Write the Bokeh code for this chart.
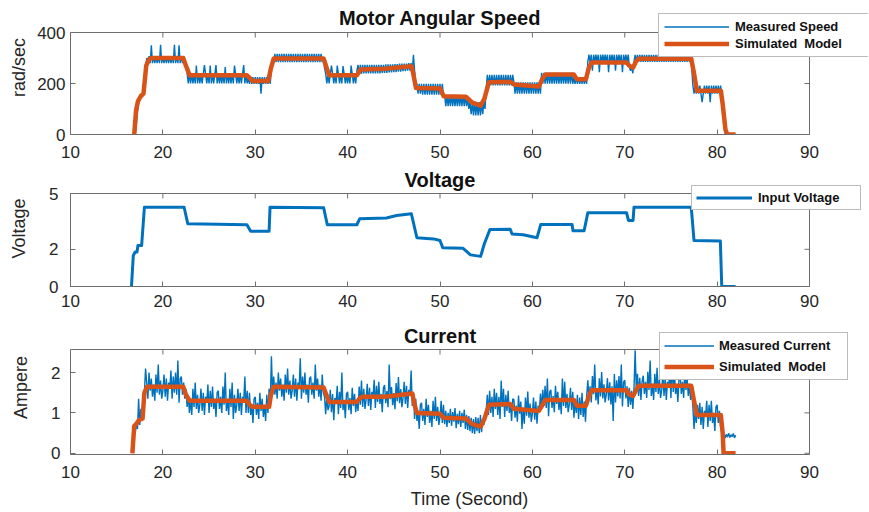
import numpy as np
from bokeh.plotting import figure
from bokeh.models import Range1d, FixedTicker, Legend, LegendItem, Label
from bokeh.layouts import column
from bokeh.embed import file_html
from bokeh.resources import INLINE

nan = float("nan")

# ---------------- data ----------------
X_TICKS = [10, 20, 30, 40, 50, 60, 70, 80, 90]
SPEED_TICKS = [0, 200, 400]
VOLT_TICKS = [0, 2, 5]
CURRENT_TICKS = [0, 1, 2]
X_LIM = (10, 90)
SPEED_LIM = (0, 400)
VOLT_LIM = (0, 5)
CURRENT_LIM = (-0.03, 2.57)

# measured samples: 0.125 s apart, first sample at 16.0 s (each row = 2 s)
MEAS_T0 = 16.0
MEAS_DT = 0.125

speed_measured = [
    nan, nan, nan, nan, nan, nan, nan, nan, 0, 40, 90, 120, 140, 145, 150, 170,          # 16
    220, 260, 300, 280, 307, 280, 350, 280, 307, 280, 307, 280, 307, 280, 352, 280,      # 18
    307, 280, 307, 280, 307, 280, 307, 280, 307, 280, 352, 280, 307, 280, 350, 280,      # 20
    307, 280, 307, 280, 270, 240, 200, 238, 200, 238, 200, 238, 200, 270, 200, 238,      # 22
    200, 238, 200, 238, 272, 238, 200, 238, 200, 270, 200, 238, 200, 238, 272, 200,      # 24
    238, 200, 238, 200, 238, 200, 265, 200, 238, 200, 238, 200, 238, 200, 270, 238,      # 26
    200, 238, 200, 238, 200, 238, 272, 200, 238, 200, 225, 199, 225, 199, 225, 199,      # 28
    225, 199, 225, 199, 225, 160, 225, 199, 225, 199, 225, 199, 225, 199, 260, 300,      # 30
    284, 316, 284, 316, 284, 316, 284, 316, 284, 316, 284, 316, 284, 316, 284, 316,      # 32
    284, 316, 284, 316, 284, 316, 284, 316, 284, 316, 284, 316, 284, 316, 284, 316,      # 34
    284, 316, 284, 316, 284, 316, 284, 316, 284, 316, 284, 300, 260, 238, 200, 238,      # 36
    200, 238, 270, 238, 200, 238, 200, 270, 238, 200, 238, 200, 268, 238, 200, 238,      # 38
    200, 238, 200, 270, 238, 200, 238, 200, 250, 273, 238, 273, 238, 273, 240, 273,      # 40
    240, 273, 240, 273, 240, 273, 240, 273, 240, 273, 240, 273, 240, 273, 242, 273,      # 42
    242, 275, 242, 275, 244, 275, 244, 275, 245, 276, 245, 276, 246, 278, 246, 278,      # 44
    248, 278, 248, 278, 250, 280, 250, 280, 250, 313, 250, 200, 199, 160, 199, 160,      # 46
    199, 156, 199, 156, 199, 156, 199, 156, 199, 156, 199, 156, 199, 156, 199, 156,      # 48
    199, 156, 199, 156, 153, 111, 153, 111, 153, 111, 153, 111, 153, 111, 153, 111,      # 50
    153, 111, 153, 111, 153, 111, 153, 111, 140, 100, 127, 80, 127, 75, 127, 75,         # 52
    127, 75, 127, 75, 127, 80, 130, 100, 180, 234, 192, 234, 192, 234, 192, 234,         # 54
    192, 234, 192, 234, 192, 234, 192, 234, 192, 234, 192, 234, 192, 234, 192, 234,      # 56
    205, 160, 205, 160, 205, 160, 205, 160, 205, 160, 205, 160, 205, 160, 205, 160,      # 58
    205, 160, 205, 160, 205, 160, 205, 160, 242, 199, 242, 199, 242, 199, 242, 199,      # 60
    242, 199, 242, 199, 242, 199, 242, 199, 242, 199, 242, 199, 242, 199, 242, 199,      # 62
    242, 199, 242, 199, 225, 199, 225, 199, 225, 199, 225, 199, 225, 199, 225, 199,      # 64
    284, 313, 284, 313, 250, 313, 284, 313, 284, 313, 244, 313, 284, 313, 284, 313,      # 66
    284, 313, 244, 313, 284, 313, 284, 313, 250, 313, 284, 313, 284, 313, 244, 313,      # 68
    284, 313, 284, 313, 265, 250, 265, 240, 285, 312, 285, 312, 285, 312, 285, 312,      # 70
    285, 312, 285, 312, 285, 312, 285, 312, 285, 312, 285, 312, 285, 312, 285, 312,      # 72
    285, 312, 285, 312, 285, 312, 285, 312, 285, 312, 285, 312, 285, 312, 285, 312,      # 74
    285, 312, 285, 312, 285, 312, 285, 312, 285, 312, 260, 192, 160, 192, 160, 192,      # 76
    160, 192, 160, 127, 160, 192, 160, 192, 160, 192, 127, 192, 160, 192, 160, 192,      # 78
    160, 192, 160, 192, 160, 100, 40, 0, 0, 0, 0, 0, 0, 0, 0, 0,                         # 80
    0,                                                                                   # 82
]

current_measured = [
    nan, nan, nan, nan, nan, nan, 0.30, 0.55, 0.50, 0.75, 0.60, 1.35, 0.70, 1.10, 0.80, 1.20,     # 16
    1.50, 2.10, 1.75, 1.35, 2.00, 1.55, 1.85, 1.40, 1.70, 1.30, 1.95, 1.50, 2.20, 1.45, 1.80, 1.35,  # 18
    1.55, 1.95, 1.40, 1.85, 1.30, 1.75, 1.60, 2.05, 1.35, 1.90, 1.50, 2.00, 1.45, 2.30, 1.25, 1.85,  # 20
    1.90, 1.45, 1.75, 1.35, 1.60, 1.15, 1.45, 1.00, 1.35, 0.95, 1.60, 1.15, 1.75, 1.10, 1.45, 1.00,  # 22
    1.20, 1.60, 1.05, 1.50, 0.95, 1.40, 1.25, 1.70, 1.00, 1.55, 1.15, 1.65, 1.10, 1.35, 0.90, 1.50,  # 24
    1.55, 1.10, 1.40, 1.00, 1.65, 1.20, 2.00, 1.05, 1.35, 0.95, 1.60, 1.15, 1.75, 0.85, 1.45, 1.00,  # 26
    1.20, 1.60, 1.05, 1.50, 0.95, 1.40, 1.25, 1.90, 1.00, 1.55, 1.00, 1.50, 0.95, 1.20, 0.75, 1.35,  # 28
    1.40, 0.95, 1.25, 0.85, 1.50, 1.05, 1.35, 0.90, 1.20, 0.80, 1.45, 1.00, 1.60, 1.20, 2.40, 1.45,  # 30
    1.90, 1.45, 1.75, 1.35, 2.00, 1.55, 1.85, 1.40, 1.70, 1.30, 1.95, 1.50, 2.10, 1.45, 1.80, 1.35,  # 32
    1.55, 1.95, 1.40, 1.85, 1.30, 1.75, 1.60, 2.35, 1.35, 1.90, 1.50, 2.00, 1.45, 1.70, 1.25, 1.85,  # 34
    1.90, 1.45, 1.75, 1.35, 2.20, 1.55, 1.85, 1.40, 1.70, 1.30, 1.95, 1.50, 1.40, 0.97, 1.42, 1.07,  # 36
    1.17, 1.57, 1.02, 1.47, 0.82, 1.37, 1.22, 1.67, 0.97, 1.52, 1.12, 2.00, 1.07, 1.32, 0.87, 1.47,  # 38
    1.52, 1.07, 1.37, 0.97, 1.62, 1.17, 1.47, 1.02, 1.32, 1.05, 1.65, 1.20, 1.80, 1.15, 1.60, 1.10,  # 40
    1.32, 1.72, 1.17, 1.62, 1.07, 1.52, 1.37, 1.82, 1.12, 1.67, 1.27, 1.77, 1.22, 1.47, 1.02, 1.62,  # 42
    1.69, 1.24, 1.54, 1.14, 2.20, 1.34, 1.64, 1.19, 1.49, 1.09, 1.74, 1.29, 1.89, 1.24, 1.59, 1.14,  # 44
    1.37, 1.77, 1.22, 1.67, 1.12, 1.57, 1.42, 2.05, 1.17, 1.50, 0.85, 1.35, 0.80, 1.05, 0.60, 1.20,  # 46
    1.25, 0.80, 1.10, 0.70, 1.35, 0.90, 1.20, 0.75, 1.05, 0.65, 1.30, 0.85, 1.40, 0.80, 1.15, 0.70,  # 48
    0.90, 1.30, 0.75, 1.20, 0.72, 1.05, 0.65, 1.00, 0.75, 1.10, 0.68, 1.02, 0.78, 1.12, 0.62, 0.98,  # 50
    0.72, 1.05, 0.65, 1.00, 0.75, 1.08, 0.60, 0.95, 0.58, 0.92, 0.55, 0.88, 0.50, 0.85, 0.48, 0.90,  # 52
    0.55, 0.88, 0.50, 0.95, 0.52, 0.85, 0.70, 1.00, 1.05, 1.45, 0.95, 1.55, 1.00, 1.40, 0.90, 1.60,  # 54
    1.10, 1.50, 0.95, 1.40, 0.85, 1.80, 1.15, 1.60, 0.90, 1.45, 1.05, 1.55, 1.00, 1.25, 0.80, 1.35,  # 56
    1.33, 0.88, 1.18, 0.78, 1.43, 0.98, 1.28, 0.60, 1.13, 0.73, 1.38, 0.93, 1.53, 0.88, 1.23, 0.78,  # 58
    0.98, 1.38, 0.83, 1.28, 0.73, 1.18, 1.03, 1.48, 1.12, 1.57, 1.17, 1.67, 1.12, 1.85, 0.92, 1.52,  # 60
    1.57, 1.12, 1.42, 1.02, 1.67, 1.22, 1.52, 1.07, 1.37, 0.97, 1.85, 1.17, 1.77, 1.12, 1.47, 1.02,  # 62
    1.22, 1.62, 1.07, 1.52, 0.88, 1.33, 1.00, 1.45, 0.85, 1.38, 0.95, 1.50, 0.90, 1.28, 0.78, 1.40,  # 64
    1.81, 1.36, 1.66, 1.26, 1.91, 1.46, 2.20, 1.31, 1.61, 1.21, 1.86, 1.41, 2.01, 1.36, 1.71, 1.26,  # 66
    1.46, 1.86, 1.31, 1.76, 1.21, 1.66, 0.80, 1.96, 1.26, 1.81, 1.41, 1.91, 1.36, 2.20, 1.16, 1.76,  # 68
    1.81, 1.36, 1.66, 1.15, 1.62, 1.20, 1.55, 1.10, 1.60, 2.55, 1.57, 1.97, 1.42, 1.87, 1.32, 1.77,  # 70
    1.92, 1.47, 1.77, 1.37, 2.02, 1.57, 2.30, 1.42, 1.72, 1.32, 1.97, 1.52, 2.12, 1.47, 1.82, 1.37,  # 72
    1.57, 1.97, 1.42, 1.87, 1.32, 1.77, 1.62, 2.07, 1.37, 2.35, 1.52, 2.02, 1.47, 1.72, 1.27, 1.87,  # 74
    1.92, 1.47, 1.77, 1.37, 2.02, 1.57, 1.87, 1.42, 1.72, 1.32, 1.60, 1.15, 0.60, 1.05, 0.75, 1.20,  # 76
    0.85, 1.25, 0.70, 1.15, 0.60, 1.05, 0.90, 1.30, 0.65, 1.20, 0.80, 1.30, 0.75, 1.00, 0.55, 1.15,  # 78
    1.20, 0.75, 1.05, 0.65, 0.80, 0.40, 0.48, 0.38, 0.47, 0.40, 0.50, 0.39, 0.46, 0.41, 0.49, 0.38,  # 80
    0.45,                                                                                            # 82
]

# simulated model (orange) key points
speed_sim_t = [16.9, 17.1, 17.3, 17.6, 17.9, 18.2, 18.5, 18.8, 22.2, 22.5, 22.9,
               29.1, 29.4, 29.7, 31.4, 31.7, 32.0, 37.4, 37.7, 38.0, 41.0, 41.4,
               44.0, 46.9, 47.1, 47.4, 50.0, 50.4, 52.8, 53.5, 54.4, 54.8, 55.3,
               57.6, 58.0, 60.7, 61.1, 61.4, 64.5, 64.8, 65.8, 66.1, 66.4, 70.2,
               70.5, 70.9, 71.2, 71.5, 77.2, 77.5, 77.8, 80.4, 80.6, 80.9, 81.1, 82.0]
speed_sim = [0, 95, 130, 150, 160, 270, 295, 300, 300, 270, 232,
             232, 222, 210, 210, 260, 298, 298, 265, 232, 232, 255,
             258, 268, 240, 182, 180, 150, 148, 125, 113, 140, 205,
             207, 196, 188, 220, 235, 235, 217, 217, 260, 282, 282,
             270, 262, 285, 297, 297, 240, 172, 172, 120, 20, 0, 0]

volt_t = [16.6, 16.8, 17.0, 17.2, 17.3, 17.7, 18.0, 22.3, 22.7, 29.1, 29.5,
          31.5, 31.6, 37.4, 37.8, 41.0, 41.3, 44.2, 45.3, 46.9, 47.5, 49.3,
          50.0, 50.3, 52.5, 53.3, 54.4, 54.8, 55.4, 57.6, 57.8, 59.0, 60.5,
          60.9, 64.3, 64.4, 65.6, 66.0, 70.2, 70.4, 70.9, 71.0, 77.2, 77.5,
          80.35, 80.5, 82.0]
volt = [0, 1.67, 1.85, 1.85, 2.2, 2.2, 4.26, 4.26, 3.37, 3.32, 2.97,
        2.97, 4.26, 4.24, 3.32, 3.32, 3.64, 3.68, 3.82, 3.91, 2.62, 2.56,
        2.47, 2.08, 2.05, 1.7, 1.62, 2.3, 3.06, 3.08, 2.82, 2.78, 2.62,
        3.33, 3.33, 3.0, 3.0, 3.96, 3.96, 3.55, 3.55, 4.26, 4.26, 2.47,
        2.45, 0.0, 0.0]

current_sim_t = [16.7, 16.9, 17.1, 17.4, 17.8, 18.0, 18.3, 22.2, 22.5, 22.9,
                 29.1, 29.4, 29.7, 31.5, 31.7, 32.0, 37.4, 37.7, 38.0, 41.0,
                 41.3, 41.6, 44.0, 47.0, 47.2, 47.5, 50.0, 50.4, 52.8, 53.5,
                 54.4, 54.8, 55.3, 57.6, 58.0, 60.7, 61.1, 61.4, 64.5, 64.8,
                 65.8, 66.1, 66.4, 70.2, 70.5, 70.9, 71.2, 71.5, 77.2, 77.5,
                 77.8, 80.4, 80.6, 80.7, 82.0]
current_sim = [0, 0.68, 0.72, 0.82, 0.86, 1.5, 1.65, 1.65, 1.45, 1.3,
               1.3, 1.2, 1.15, 1.15, 1.45, 1.65, 1.63, 1.45, 1.27, 1.27,
               1.36, 1.4, 1.4, 1.48, 1.25, 1.0, 0.98, 0.88, 0.86, 0.72,
               0.66, 0.85, 1.2, 1.22, 1.1, 1.05, 1.2, 1.32, 1.32, 1.18,
               1.18, 1.4, 1.56, 1.56, 1.45, 1.42, 1.55, 1.67, 1.67, 1.3,
               0.95, 0.95, 0.5, 0.0, 0.0]

# ---------------- layout / style ----------------
FONT = "Liberation Sans"
BLUE = "#0072BD"
ORANGE = "#D95319"
AX = "#6e6e6e"
TXT = "#262626"

PAGE_W = 868
FRAME_LEFT = 70          # pixel of x = 10
X_RIGHT_PX = 809         # pixel of x = 90
PX_PER_X = (X_RIGHT_PX - FRAME_LEFT) / (X_LIM[1] - X_LIM[0])
X_END = X_LIM[0] + (PAGE_W - FRAME_LEFT) / PX_PER_X
TICK_PX = 5


def style_axis(ax, ticks, std, bounds):
    ax.ticker = FixedTicker(ticks=ticks)
    ax.bounds = bounds
    ax.axis_line_color = AX
    ax.major_tick_line_color = AX
    ax.major_tick_in = TICK_PX
    ax.major_tick_out = 0
    ax.minor_tick_line_color = None
    ax.major_label_text_font = FONT
    ax.major_label_text_color = TXT
    ax.major_label_text_font_size = "17px"
    ax.major_label_standoff = std


def make_fig(title, title_base, ylabel, ylim, yticks, fig_top, fig_bottom,
             ylim_px, x_std, y_std, ylab_std, xlabel=None):
    y_per_px = (ylim[1] - ylim[0]) / (ylim_px[0] - ylim_px[1])
    y_end = ylim[0] + (ylim_px[0] - fig_top) * y_per_px
    p = figure(width=PAGE_W, height=fig_bottom - fig_top,
               x_range=Range1d(X_LIM[0], X_END), y_range=Range1d(ylim[0], y_end),
               output_backend="svg", toolbar_location=None, title_location=None,
               min_border_left=FRAME_LEFT, min_border_right=0,
               min_border_top=0, min_border_bottom=fig_bottom - ylim_px[0])
    p.grid.visible = False
    p.outline_line_color = None
    style_axis(p.xaxis[0], X_TICKS, x_std, X_LIM)
    style_axis(p.yaxis[0], yticks, y_std, ylim)
    ya = p.yaxis[0]
    ya.axis_label = ylabel
    ya.axis_label_text_font = FONT
    ya.axis_label_text_font_size = "18px"
    ya.axis_label_text_font_style = "normal"
    ya.axis_label_text_color = TXT
    ya.axis_label_standoff = ylab_std
    if xlabel:
        xa = p.xaxis[0]
        xa.axis_label = xlabel
        xa.axis_label_text_font = FONT
        xa.axis_label_text_font_size = "18px"
        xa.axis_label_text_font_style = "normal"
        xa.axis_label_text_color = TXT
        xa.axis_label_standoff = 8
    # box: top and right sides, plus inward ticks on them
    p.segment(x0=[X_LIM[0], X_LIM[1]], y0=[ylim[1], ylim[0]],
              x1=[X_LIM[1], X_LIM[1]], y1=[ylim[1], ylim[1]],
              line_color=AX, line_width=1)
    p.segment(x0=X_TICKS, y0=[ylim[1]] * len(X_TICKS), x1=X_TICKS,
              y1=[ylim[1] - TICK_PX * y_per_px] * len(X_TICKS),
              line_color=AX, line_width=1)
    p.segment(x0=[X_LIM[1]] * len(yticks), y0=yticks,
              x1=[X_LIM[1] - TICK_PX / PX_PER_X] * len(yticks), y1=yticks,
              line_color=AX, line_width=1)
    # title
    p.add_layout(Label(x=(X_LIM[0] + X_LIM[1]) / 2, y=ylim_px[0] - title_base,
                       y_units="screen", text=title, text_align="center",
                       text_baseline="alphabetic", text_font=FONT,
                       text_font_size="20px", text_font_style="bold",
                       text_color="#111111"))
    return p


def make_legend(items, loc, pad, spacing, lh, gw, lstd, lw):
    lg = Legend(items=items, location=loc, padding=pad, spacing=spacing,
                label_height=lh, glyph_height=lh, glyph_width=gw,
                label_standoff=lstd, label_width=lw, margin=0)
    lg.label_text_font = FONT
    lg.label_text_font_size = "13px"
    lg.label_text_font_style = "bold"
    lg.label_text_color = "#111111"
    lg.border_line_color = "#777777"
    lg.border_line_width = 1
    lg.background_fill_color = "white"
    lg.background_fill_alpha = 1.0
    return lg


t_speed = MEAS_T0 + MEAS_DT * np.arange(len(speed_measured))
t_cur = MEAS_T0 + MEAS_DT * np.arange(len(current_measured))

# ---- Figure 1: speed ----
p1 = make_fig("Motor Angular Speed", 17, "rad/sec", SPEED_LIM, SPEED_TICKS,
              0, 170, (134, 32), 11, 5, 5)
r1a = p1.line(t_speed, speed_measured, line_color=BLUE, line_width=1.4)
r1b = p1.line(speed_sim_t, speed_sim, line_color=ORANGE, line_width=4.5,
              line_join="round")
p1.add_layout(make_legend([LegendItem(label="Measured Speed", renderers=[r1a]),
                           LegendItem(label="Simulated  Model", renderers=[r1b])],
                          (588, 77), 5, 2, 15, 65, 6, 130))

# ---- Figure 2: voltage ----
p2 = make_fig("Voltage", 179, "Voltage", VOLT_LIM, VOLT_TICKS,
              170, 320, (286, 193), 8, 12, 17)
r2 = p2.line(volt_t, volt, line_color=BLUE, line_width=3, line_join="round")
p2.add_layout(make_legend([LegendItem(label="Input Voltage", renderers=[r2])],
                          (621, 76), 4, 4, 15, 56, 6, 98))

# ---- Figure 3: current ----
p3 = make_fig("Current", 335, "Ampere", CURRENT_LIM, CURRENT_TICKS,
              320, 511, (454, 349), 11, 10, 17, xlabel="Time (Second)")
r3a = p3.line(t_cur, current_measured, line_color=BLUE, line_width=1.4)
r3b = p3.line(current_sim_t, current_sim, line_color=ORANGE, line_width=4.5,
              line_join="round")
p3.add_layout(make_legend([LegendItem(label="Measured Current", renderers=[r3a]),
                           LegendItem(label="Simulated  Model", renderers=[r3b])],
                          (589, 74), 4, 4, 17, 50, 5, 124))

layout = column(p1, p2, p3, spacing=0)
open("out.html", "w").write(file_html(layout, INLINE))
